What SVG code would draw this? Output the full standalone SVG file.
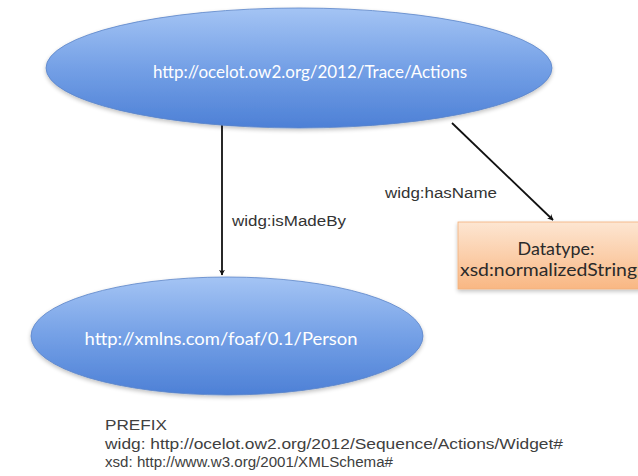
<svg xmlns="http://www.w3.org/2000/svg" width="638" height="476" viewBox="0 0 638 476">
<style>
.ell{stroke:#5b84c8;stroke-width:0.8}
.nt{font-family:Lato,"Open Sans","Liberation Sans",sans-serif;fill:#ffffff;font-size:17px;text-anchor:middle}
.bt{font-family:Lato,"Open Sans","Liberation Sans",sans-serif;fill:#2a2a2a;font-size:17px;text-anchor:middle}
.lb{font-family:"Liberation Sans",Arial,sans-serif;fill:#333333;font-size:14px}
.pf{font-family:"Liberation Sans",Arial,sans-serif;fill:#404040;font-size:14px}
.cn{stroke:#111111;stroke-width:1.8;fill:none;marker-end:url(#ah)}
</style>
<defs>
<linearGradient id="blue" x1="0" y1="0" x2="0" y2="1">
<stop offset="0" stop-color="#a4c4f4"/>
<stop offset="0.5" stop-color="#74a0e6"/>
<stop offset="1" stop-color="#4d80d6"/>
</linearGradient>
<linearGradient id="orange" x1="0" y1="0" x2="0" y2="1">
<stop offset="0" stop-color="#fde6d2"/>
<stop offset="1" stop-color="#f9b783"/>
</linearGradient>
<filter id="sh" x="-10%" y="-10%" width="120%" height="130%">
<feGaussianBlur in="SourceAlpha" stdDeviation="2"/>
<feOffset dx="0" dy="2" result="b"/>
<feComponentTransfer><feFuncA type="linear" slope="0.25"/></feComponentTransfer>
<feMerge><feMergeNode/><feMergeNode in="SourceGraphic"/></feMerge>
</filter>
<marker id="ah" viewBox="0 0 10 10" refX="9" refY="5" markerWidth="6" markerHeight="6" orient="auto" markerUnits="userSpaceOnUse">
<path d="M0,0 L10,5 L0,10 L3,5 z" fill="#111111"/>
</marker>
</defs>
<rect width="638" height="476" fill="#ffffff"/>
<g id="connectors">
<line class="cn" x1="222" y1="124" x2="222" y2="275"/>
<line class="cn" x1="452" y1="123" x2="553" y2="220"/>
<text class="lb" x="232" y="226" textLength="114" lengthAdjust="spacingAndGlyphs">widg:isMadeBy</text>
<text class="lb" x="385" y="198" textLength="112" lengthAdjust="spacingAndGlyphs">widg:hasName</text>
</g>
<g id="node-actions">
<ellipse class="ell" cx="299" cy="68" rx="253" ry="60" fill="url(#blue)" filter="url(#sh)"/>
<text class="nt" x="310" y="78" textLength="314" lengthAdjust="spacingAndGlyphs">http://ocelot.ow2.org/2012/Trace/Actions</text>
</g>
<g id="node-person">
<ellipse class="ell" cx="227" cy="336" rx="196" ry="59" fill="url(#blue)" filter="url(#sh)"/>
<text class="nt" x="221" y="345" textLength="273" lengthAdjust="spacingAndGlyphs">http://xmlns.com/foaf/0.1/Person</text>
</g>
<g id="node-datatype">
<rect x="458" y="222" width="200" height="67" fill="url(#orange)" stroke="#f2b07a" stroke-width="0.8" filter="url(#sh)"/>
<text class="bt" x="556" y="255" textLength="77" lengthAdjust="spacingAndGlyphs">Datatype:</text>
<text class="bt" x="460" y="276" style="text-anchor:start" textLength="177" lengthAdjust="spacingAndGlyphs">xsd:normalizedString</text>
</g>
<g id="prefix">
<text class="pf" x="105" y="430" textLength="62" lengthAdjust="spacingAndGlyphs">PREFIX</text>
<text class="pf" x="105" y="449" textLength="458" lengthAdjust="spacingAndGlyphs">widg: http://ocelot.ow2.org/2012/Sequence/Actions/Widget#</text>
<text class="pf" x="105" y="467" textLength="288" lengthAdjust="spacingAndGlyphs">xsd: http://www.w3.org/2001/XMLSchema#</text>
</g>
</svg>
